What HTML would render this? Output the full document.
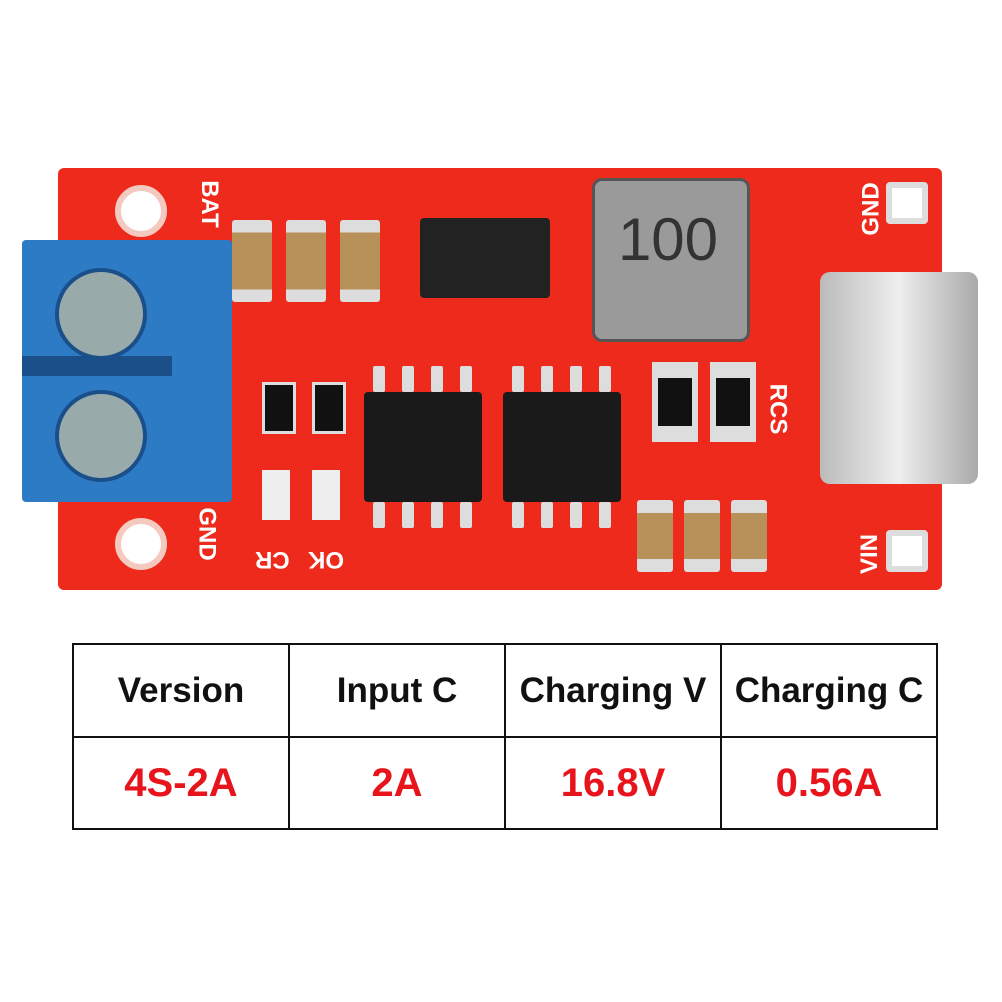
<!DOCTYPE html>
<html><head><meta charset="utf-8"><style>
body{margin:0;width:1002px;height:1002px;background:#fff;position:relative;overflow:hidden;font-family:"Liberation Sans",sans-serif}
.a{position:absolute}
.cap{position:absolute;border-radius:3px}
.ic{position:absolute;background:#1a1a1a;border-radius:4px}
.pin{position:absolute;background:#ddd;width:12px;height:26px;border-radius:2px}
.hole{position:absolute;border-radius:50%;background:#fff;border:6px solid #f4c9c0}
table{position:absolute;left:72px;top:643px;width:866px;height:187px;border-collapse:collapse}
td{border:2px solid #111;text-align:center;width:25%;font-weight:bold}
.h td{font-size:35px;color:#111}
.r td{color:#e8141c;font-size:40px}
.lbl{position:absolute;color:#fff;font-weight:bold;font-size:24px}
</style></head><body>
<div class="a" style="left:58px;top:168px;width:884px;height:422px;background:#ee2a1c;border-radius:6px"></div>
<div class="hole" style="left:115px;top:185px;width:40px;height:40px"></div>
<div class="hole" style="left:115px;top:518px;width:40px;height:40px"></div>
<div class="hole" style="left:886px;top:182px;width:30px;height:30px;border-radius:4px;background:#fff;border-color:#ddd"></div>
<div class="hole" style="left:886px;top:530px;width:30px;height:30px;border-radius:4px;background:#fff;border-color:#ddd"></div>
<div class="a" style="left:22px;top:240px;width:210px;height:262px;background:#2c7bc4;border-radius:4px"></div>
<div class="a" style="left:22px;top:356px;width:150px;height:20px;background:#1a4f8a"></div>
<div class="a" style="left:55px;top:268px;width:84px;height:84px;border-radius:50%;background:#9aa;border:4px solid #1a4f8a"></div>
<div class="a" style="left:55px;top:390px;width:84px;height:84px;border-radius:50%;background:#9aa;border:4px solid #1a4f8a"></div>
<div class="cap" style="left:232px;top:220px;width:40px;height:82px;background:linear-gradient(#ddd 0 15%,#b8915a 15% 85%,#ddd 85%)"></div>
<div class="cap" style="left:286px;top:220px;width:40px;height:82px;background:linear-gradient(#ddd 0 15%,#b8915a 15% 85%,#ddd 85%)"></div>
<div class="cap" style="left:340px;top:220px;width:40px;height:82px;background:linear-gradient(#ddd 0 15%,#b8915a 15% 85%,#ddd 85%)"></div>
<div class="ic" style="left:420px;top:218px;width:130px;height:80px;background:#222"></div>
<div class="a" style="left:592px;top:178px;width:152px;height:158px;background:#9a9a9a;border-radius:10px;border:3px solid #555"></div>
<div class="a" style="left:600px;top:205px;width:136px;font-size:60px;text-align:center;color:#333">100</div>
<div class="a" style="left:820px;top:272px;width:158px;height:212px;background:linear-gradient(90deg,#bbb,#eee,#aaa);border-radius:10px"></div>
<div class="ic" style="left:364px;top:392px;width:118px;height:110px"></div>
<div class="ic" style="left:503px;top:392px;width:118px;height:110px"></div>
<div class="pin" style="left:373px;top:366px"></div><div class="pin" style="left:402px;top:366px"></div><div class="pin" style="left:431px;top:366px"></div><div class="pin" style="left:460px;top:366px"></div>
<div class="pin" style="left:373px;top:502px"></div><div class="pin" style="left:402px;top:502px"></div><div class="pin" style="left:431px;top:502px"></div><div class="pin" style="left:460px;top:502px"></div>
<div class="pin" style="left:512px;top:366px"></div><div class="pin" style="left:541px;top:366px"></div><div class="pin" style="left:570px;top:366px"></div><div class="pin" style="left:599px;top:366px"></div>
<div class="pin" style="left:512px;top:502px"></div><div class="pin" style="left:541px;top:502px"></div><div class="pin" style="left:570px;top:502px"></div><div class="pin" style="left:599px;top:502px"></div>
<div class="a" style="left:652px;top:362px;width:46px;height:80px;background:#ddd"></div><div class="a" style="left:658px;top:378px;width:34px;height:48px;background:#111"></div>
<div class="a" style="left:710px;top:362px;width:46px;height:80px;background:#ddd"></div><div class="a" style="left:716px;top:378px;width:34px;height:48px;background:#111"></div>
<div class="a" style="left:262px;top:382px;width:28px;height:46px;background:#111;border:3px solid #ddd"></div>
<div class="a" style="left:312px;top:382px;width:28px;height:46px;background:#111;border:3px solid #ddd"></div>
<div class="a" style="left:262px;top:470px;width:28px;height:50px;background:#eee"></div>
<div class="a" style="left:312px;top:470px;width:28px;height:50px;background:#eee"></div>
<div class="cap" style="left:637px;top:500px;width:36px;height:72px;background:linear-gradient(#ddd 0 18%,#b8915a 18% 82%,#ddd 82%)"></div>
<div class="cap" style="left:684px;top:500px;width:36px;height:72px;background:linear-gradient(#ddd 0 18%,#b8915a 18% 82%,#ddd 82%)"></div>
<div class="cap" style="left:731px;top:500px;width:36px;height:72px;background:linear-gradient(#ddd 0 18%,#b8915a 18% 82%,#ddd 82%)"></div>
<div class="lbl" style="left:185px;top:190px;transform:rotate(90deg)">BAT</div>
<div class="lbl" style="left:180px;top:520px;transform:rotate(90deg)">GND</div>
<div class="lbl" style="left:845px;top:195px;transform:rotate(-90deg)">GND</div>
<div class="lbl" style="left:850px;top:540px;transform:rotate(-90deg)">VIN</div>
<div class="lbl" style="left:255px;top:545px;transform:rotate(180deg)">CR</div>
<div class="lbl" style="left:308px;top:545px;transform:rotate(180deg)">OK</div>
<div class="lbl" style="left:752px;top:395px;transform:rotate(90deg)">RCS</div>
<table>
<tr class="h" style="height:93px"><td>Version</td><td>Input C</td><td>Charging V</td><td>Charging C</td></tr>
<tr class="r"><td>4S-2A</td><td>2A</td><td>16.8V</td><td>0.56A</td></tr>
</table>
</body></html>
